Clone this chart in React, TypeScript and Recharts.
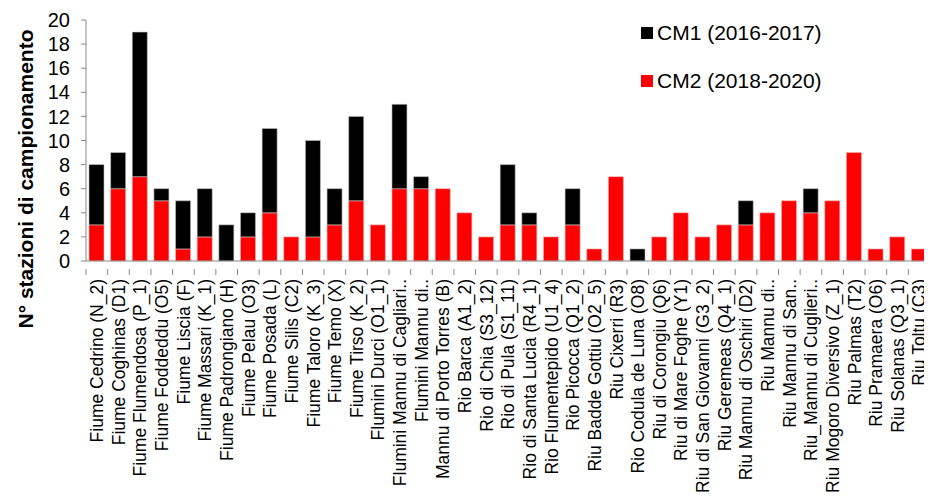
import React from 'react';
import { BarChart, Bar, XAxis, YAxis } from 'recharts';

const STATIONS = [
  'Fiume Cedrino (N_2)',
  'Fiume Coghinas (D1)',
  'Fiume Flumendosa (P_1)',
  'Fiume Foddeddu (O5)',
  'Fiume Liscia (F)',
  'Fiume Massari (K_1)',
  'Fiume Padrongiano (H)',
  'Fiume Pelau (O3)',
  'Fiume Posada (L)',
  'Fiume Silis (C2)',
  'Fiume Taloro (K_3)',
  'Fiume Temo (X)',
  'Fiume Tirso (K_2)',
  'Flumini Durci (O1_1)',
  'Flumini Mannu di Cagliari..',
  'Flumini Mannu di..',
  'Mannu di Porto Torres (B)',
  'Rio Barca (A1_2)',
  'Rio di Chia (S3_12)',
  'Rio di Pula (S1_11)',
  'Rio di Santa Lucia (R4_1)',
  'Rio Flumentepido (U1_4)',
  'Rio Picocca (Q1_2)',
  'Riu Badde Gottiu (O2_5)',
  'Riu Cixerri (R3)',
  'Rio Codula de Luna (O8)',
  'Riu di Corongiu (Q6)',
  'Riu di Mare Foghe (Y1)',
  'Riu di San Giovanni (G3_2)',
  'Riu Geremeas (Q4_1)',
  'Riu Mannu di Oschiri (D2)',
  'Riu Mannu di..',
  'Riu Mannu di San..',
  'Riu_Mannu di Cuglieri..',
  'Riu Mogoro Diversivo (Z_1)',
  'Riu Palmas (T2)',
  'Riu Pramaera (O6)',
  'Riu Solanas (Q3_1)',
  'Riu Toltu (C3)',
];

// CM1 2016-2017 (nero, in cima) e CM2 2018-2020 (rosso, in basso)
const CM1 = [5, 3, 12, 1, 4, 4, 3, 2, 7, 0, 8, 3, 7, 0, 7, 1, 0, 0, 0, 5, 1, 0, 3, 0, 0, 1, 0, 0, 0, 0, 2, 0, 0, 2, 0, 0, 0, 0, 0];
const CM2 = [3, 6, 7, 5, 1, 2, 0, 2, 4, 2, 2, 3, 5, 3, 6, 6, 6, 4, 2, 3, 3, 2, 3, 1, 7, 0, 2, 4, 2, 3, 3, 4, 5, 4, 5, 9, 1, 2, 1];

const Y_TICKS = [0, 2, 4, 6, 8, 10, 12, 14, 16, 18, 20];

const SERIES = [
  { key: 'cm1', label: 'CM1 (2016-2017)', color: '#000000' },
  { key: 'cm2', label: 'CM2 (2018-2020)', color: '#ff0000' },
];

const FONT = '"Liberation Sans", Arial, sans-serif';
const AXIS_COLOR = '#898989';
const PLOT_LEFT = 86;
const PLOT_RIGHT = 930;
const BAND = (PLOT_RIGHT - PLOT_LEFT) / STATIONS.length;

const data = STATIONS.map((name, i) => ({ name, cm1: CM1[i], cm2: CM2[i] }));

const StationTick = (props: any) => {
  const { x, y, payload } = props;
  const half = BAND / 2;
  const isLast = payload.index === STATIONS.length - 1;
  return (
    <g>
      <line x1={x - half} y1={y} x2={x - half} y2={y + 6} stroke={AXIS_COLOR} />
      {isLast && <line x1={x + half} y1={y} x2={x + half} y2={y + 6} stroke={AXIS_COLOR} />}
      <text
        transform={`translate(${x},${y + 10}) rotate(-90)`}
        textAnchor="end"
        dy="0.36em"
        fontSize={17.5}
        fontFamily={FONT}
        fill="#000"
      >
        {payload.value}
      </text>
    </g>
  );
};

export default function App() {
  return (
    <div style={{ margin: -8, width: 932, height: 503, background: '#fff', position: 'relative' }}>
      <BarChart
        width={932}
        height={503}
        data={data}
        margin={{ top: 20, right: 2, bottom: 0, left: 0 }}
      >
        <XAxis
          dataKey="name"
          interval={0}
          height={242}
          axisLine={{ stroke: AXIS_COLOR }}
          tickLine={false}
          tick={<StationTick />}
        />
        <YAxis
          width={86}
          domain={[0, 20]}
          ticks={Y_TICKS}
          interval={0}
          tickSize={5}
          tickMargin={11}
          axisLine={{ stroke: AXIS_COLOR }}
          tickLine={{ stroke: AXIS_COLOR }}
          tick={{ fontSize: 20, fontFamily: FONT, fill: '#000' }}
          label={{
            content: () => (
              <text
                transform="translate(25,179) rotate(-90)"
                textAnchor="middle"
                dy="0.36em"
                fontSize={21}
                fontWeight="bold"
                fontFamily={FONT}
                fill="#000"
              >
                N° stazioni di campionamento
              </text>
            ),
          }}
        />
        <Bar dataKey="cm2" name="CM2 (2018-2020)" stackId="a" fill="#ff0000" stroke="#f4b4b4" strokeWidth={0.6} barSize={15} isAnimationActive={false} />
        <Bar dataKey="cm1" name="CM1 (2016-2017)" stackId="a" fill="#000000" stroke="#bdbdbd" strokeWidth={0.6} barSize={15} isAnimationActive={false} />
      </BarChart>
      <div style={{ position: 'absolute', left: 641, top: 9, fontFamily: FONT, fontSize: 21, color: '#000' }}>
        {SERIES.map((item) => (
          <div key={item.key} style={{ display: 'flex', alignItems: 'center', height: 48 }}>
            <span style={{ width: 12, height: 12, background: item.color, marginRight: 4 }} />
            <span>{item.label}</span>
          </div>
        ))}
      </div>
    </div>
  );
}
